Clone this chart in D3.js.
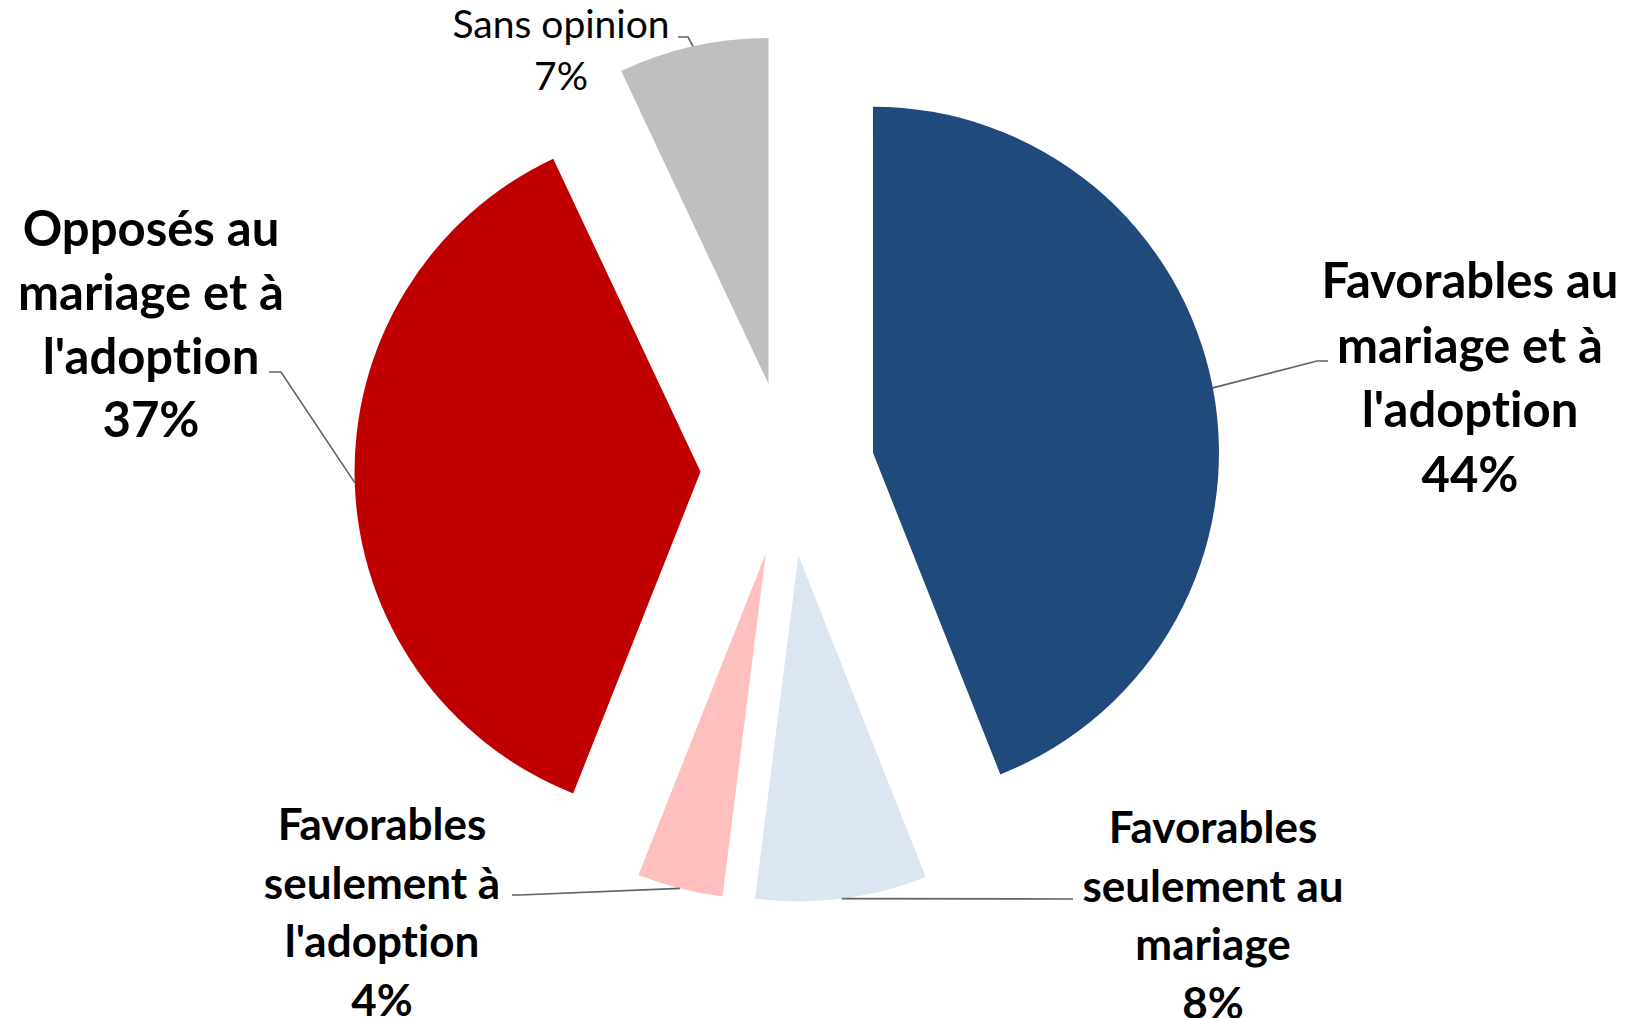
<!DOCTYPE html>
<html>
<head>
<meta charset="utf-8">
<script src="https://cdn.jsdelivr.net/npm/d3@7"></script>
<style>
  html, body { margin: 0; padding: 0; background: #fff; }
  svg { display: block; }
  text { font-variant-ligatures: none; font-feature-settings: "liga" 0, "clig" 0; }
</style>
</head>
<body>
<svg id="chart" width="1633" height="1018"></svg>
<script>
// ---- data ----
const categories = [
  "Favorables au mariage et à l'adoption",
  "Favorables seulement au mariage",
  "Favorables seulement à l'adoption",
  "Opposés au mariage et à l'adoption",
  "Sans opinion"
];
const values = [44, 8, 4, 37, 7];
const labelLines = [
  ["Favorables au", "mariage et à", "l'adoption"],
  ["Favorables", "seulement au", "mariage"],
  ["Favorables", "seulement à", "l'adoption"],
  ["Opposés au", "mariage et à", "l'adoption"],
  ["Sans opinion"]
];
const colors = ["#214A7C", "#DCE6F2", "#FFBFBF", "#C00000", "#BFBFBF"];

// ---- layout ----
const W = 1633, H = 1018;
const cx = 787.5, cy = 469, R = 346, explode = 87;
const labelLayout = [
  { x: 1470, y0: 298, lh: 64.5, fs: 49, fw: 700, elbow: [1317, 361], end: [1328, 361] },
  { x: 1213, y0: 843, lh: 58.6, fs: 44, fw: 700, elbow: [1073, 899], end: [1073, 899] },
  { x: 382,  y0: 840, lh: 58.6, fs: 44, fw: 700, elbow: [520, 895],  end: [512, 895] },
  { x: 151,  y0: 246, lh: 63.8, fs: 49, fw: 700, elbow: [281, 372],  end: [269, 372] },
  { x: 561,  y0: 38,  lh: 52,   fs: 39, fw: 400, elbow: [688, 37],   end: [678, 37] }
];

const svg = d3.select("#chart");
const data = categories.map((c, i) => ({ cat: c, value: values[i], i }));
const pie = d3.pie().sort(null).value(d => d.value);
const arcs = pie(data);
const arc = d3.arc().innerRadius(0).outerRadius(R);
const edgeArc = d3.arc().innerRadius(R).outerRadius(R);

const g = svg.append("g").attr("transform", `translate(${cx},${cy})`);

arcs.forEach(a => {
  const mid = (a.startAngle + a.endAngle) / 2;
  a.dx = explode * Math.sin(mid);
  a.dy = -explode * Math.cos(mid);
});

g.selectAll("path.slice")
  .data(arcs)
  .join("path")
  .attr("class", "slice")
  .attr("d", arc)
  .attr("fill", (d, i) => colors[i])
  .attr("transform", d => `translate(${d.dx},${d.dy})`);

// leader lines
const line = d3.line();
arcs.forEach((a, i) => {
  const L = labelLayout[i];
  const p = edgeArc.centroid(a);
  const start = [cx + a.dx + p[0], cy + a.dy + p[1]];
  svg.append("path")
    .attr("d", line([start, L.elbow, L.end]))
    .attr("fill", "none")
    .attr("stroke", "#626262")
    .attr("stroke-width", 1.6);
});

// labels
arcs.forEach((a, i) => {
  const L = labelLayout[i];
  const lines = labelLines[i].concat([values[i] + "%"]);
  const t = svg.append("text")
    .attr("text-anchor", "middle")
    .attr("font-family", "Lato, 'Open Sans', sans-serif")
    .attr("font-size", L.fs)
    .attr("font-weight", L.fw)
    .attr("fill", "#000");
  lines.forEach((s, k) => {
    t.append("tspan").attr("x", L.x).attr("y", L.y0 + k * L.lh).text(s);
  });
});
</script>
</body>
</html>
